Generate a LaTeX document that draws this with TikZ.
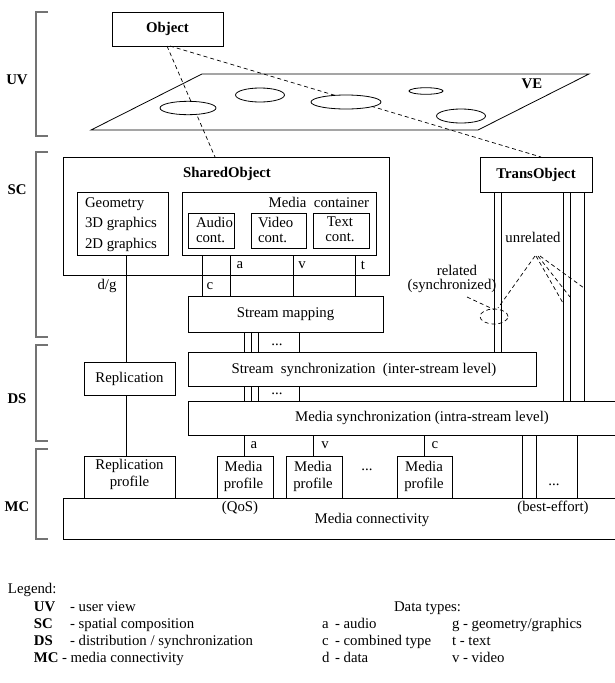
\documentclass[tikz,border=0pt]{standalone}
\usepackage{fontspec}
\setmainfont{Liberation Serif}
\usetikzlibrary{calc}
\newcommand\diagfont{\fontsize{14.8}{17}\selectfont}
\tikzset{
  box/.style={draw, inner sep=0pt, outer sep=0pt},
  lbl/.style={inner sep=0pt, outer sep=0pt},
  bold/.style={lbl, font=\diagfont\bfseries},
  bracket/.style={draw=black!55, line width=1.4pt},
  dsh/.style={dash pattern=on 4pt off 3pt, line width=0.7pt},
  wire/.style={line width=0.8pt},
  leg/.style={lbl, anchor=base west},
}
\begin{document}
\begin{tikzpicture}[x=1pt, y=-1pt, font=\diagfont, line width=0.8pt]
\useasboundingbox (0,0) rectangle (615,683);

% ---- layer brackets and their names
\draw[bracket] (48,12) -- (36,12) -- (36,136) -- (48,136);
\draw[bracket] (48,152) -- (36,152) -- (36,337) -- (48,337);
\draw[bracket] (48,345) -- (36,345) -- (36,441) -- (48,441);
\draw[bracket] (48,449) -- (36,449) -- (36,539) -- (48,539);
\node[bold] (uv) at (17,80) {UV};
\node[bold] (sc) at (17,190) {SC};
\node[bold] (ds) at (17,399) {DS};
\node[bold] (mc) at (17,507) {MC};

% ---- user view: object above the virtual environment plane
\node[box, minimum width=111pt, minimum height=34pt, font=\diagfont\bfseries] (obj) at (167.5,29) {Object};
\draw (91,130) -- (202,74) -- (589,74) -- (478,130) -- cycle;
\node[bold] (ve) at (532,84) {VE};

% ---- spatial composition
\node[box, minimum width=326pt, minimum height=118pt] (shared) at (226,216) {};
\node[bold] (sharedtitle) at (227,174) {SharedObject};
\node[box, minimum width=112pt, minimum height=35pt, font=\diagfont\bfseries] (trans) at (536,174.5) {TransObject};

% projection of the object onto the plane and down to the two object kinds
\draw[dsh] ([xshift=-0.5pt]obj.south) -- (215,0 |- shared.north);
\draw[dsh] ([xshift=2.5pt]obj.south) -- (541,0 |- trans.north);

% objects in the plane (hide the projection lines behind them)
\draw[fill=white] (188,108) ellipse [x radius=28pt, y radius=6.7pt];
\draw[fill=white] (260,95) ellipse [x radius=24.5pt, y radius=7pt];
\draw[fill=white] (346,102) ellipse [x radius=35pt, y radius=7pt];
\draw[fill=white] (426,91) ellipse [x radius=17pt, y radius=3.3pt];
\draw[fill=white] (461,116) ellipse [x radius=24.5pt, y radius=7pt];

\node[box, minimum width=91pt, minimum height=63pt] (geom) at (122.5,223.5) {};
\node[lbl, align=left, anchor=north west, font=\fontsize{14.8}{20.5}\selectfont] (geomtxt) at (85,197.5)
  {Geometry\\3D graphics\\2D graphics};

\node[box, minimum width=194pt, minimum height=63pt] (mcont) at (279,223.5) {};
\node[lbl, anchor=east] (mconttxt) at (369,202) {Media\ \ container};
\node[box, minimum width=46pt, minimum height=35pt] (audio) at (211,230.5) {};
\node[lbl, align=left, anchor=west, font=\fontsize{14.8}{15}\selectfont] (audiotxt) at (196,229.5) {Audio\\cont.};
\node[box, minimum width=55pt, minimum height=35pt] (video) at (278.5,230.5) {};
\node[lbl, align=left, anchor=west, font=\fontsize{14.8}{15}\selectfont] (videotxt) at (258,229.5) {Video\\cont.};
\node[box, minimum width=56pt, minimum height=35pt] (textc) at (341,230.5) {};
\node[lbl, align=center, font=\fontsize{14.8}{15}\selectfont] (texttxt) at (340,229.5) {Text\\cont.};

\node[box, minimum width=195pt, minimum height=36pt] (smap) at (285.5,314) {Stream mapping};

% streams leaving the media container
\draw[wire] (202,0 |- mcont.south) -- (202,0 |- smap.north);
\draw[wire] (230,0 |- mcont.south) -- (230,0 |- smap.north);
\draw[wire] (293,0 |- mcont.south) -- (293,0 |- smap.north);
\draw[wire] (355,0 |- mcont.south) -- (355,0 |- smap.north);
\node[lbl] (la1) at (240,265) {a};
\node[lbl] (lv1) at (302,265) {v};
\node[lbl] (lt1) at (363,265) {t};
\node[lbl] (lc1) at (210,286) {c};
\node[lbl] (ldg) at (107,286) {d/g};

% ---- distribution / synchronization
\node[box, minimum width=348pt, minimum height=34pt] (ssync) at (362,369) {};
\node[lbl] (ssynctxt) at (364,369.5) {Stream\ \ synchronization\ \ (inter-stream level)};
\node[box, minimum width=432pt, minimum height=34pt] (msync) at (404,418) {};
\node[lbl] (msynctxt) at (422,418) {Media synchronization (intra-stream level)};
\node[box, minimum width=91pt, minimum height=33pt] (repl) at (129.5,378.5) {Replication};

\foreach \xx in {244,251,258,299} {
  \draw[wire] (\xx,0 |- smap.south) -- (\xx,0 |- ssync.north);
  \draw[wire] (\xx,0 |- ssync.south) -- (\xx,0 |- msync.north);
}
\node[lbl, anchor=base] (dots1) at (277,345) {...};
\node[lbl, anchor=base] (dots2) at (277,394.5) {...};

% data / graphics path
\draw[wire] (126,0 |- geom.south) -- (126,0 |- repl.north);

% ---- media connectivity
\node[box, minimum width=557pt, minimum height=41pt] (mconn) at (341.5,518.5) {};
\node[lbl] (qos) at (240,508) {(QoS)};
\node[lbl] (mconntxt) at (372,520) {Media connectivity};
\node[lbl] (besteff) at (553,508) {(best-effort)};

\node[box, minimum width=91pt, minimum height=42pt] (rprof) at (129.5,477) {};
\node[lbl, align=center] (rproftxt) at (129.5,474) {Replication\\profile};
\draw[wire] (126,0 |- repl.south) -- (126,0 |- rprof.north);

\node[box, minimum width=56pt, minimum height=42pt] (mp1) at (245,477) {};
\node[lbl, align=center] (mp1txt) at (243.5,476) {Media\\profile};
\node[box, minimum width=56pt, minimum height=42pt] (mp2) at (314,477) {};
\node[lbl, align=center] (mp2txt) at (313,476) {Media\\profile};
\node[box, minimum width=55pt, minimum height=42pt] (mp3) at (424.5,477) {};
\node[lbl, align=center] (mp3txt) at (424,476) {Media\\profile};
\node[lbl, anchor=base] (dots3) at (367,470) {...};

\draw[wire] (244,0 |- msync.south) -- (244,0 |- mp1.north);
\draw[wire] (313,0 |- msync.south) -- (313,0 |- mp2.north);
\draw[wire] (424,0 |- msync.south) -- (424,0 |- mp3.north);
\node[lbl] (la2) at (254,445) {a};
\node[lbl] (lv2) at (325,445) {v};
\node[lbl] (lc2) at (435,445) {c};

% best-effort streams of the transient object
\foreach \xx in {522,536,577} {
  \draw[wire] (\xx,0 |- msync.south) -- (\xx,0 |- mconn.north);
}
\node[lbl, anchor=base] (dots4) at (554,485) {...};

% ---- transient object streams
\foreach \xx in {494,501} {
  \draw[wire] (\xx,0 |- trans.south) -- (\xx,0 |- ssync.north);
}
\foreach \xx in {563,570,584} {
  \draw[wire] (\xx,0 |- trans.south) -- (\xx,0 |- msync.north);
}
\node[lbl] (unrel) at (533,237) {unrelated};
\node[lbl, align=center, font=\fontsize{14.8}{14.5}\selectfont] (rel) at (452,279)
  {\hspace*{10pt}related\\(synchronized)};

\coordinate (apex) at (535,256);
\coordinate (relend) at (498,308);
\coordinate (u1) at (563,303);
\coordinate (u2) at (570,297);
\coordinate (u3) at (584,288);
\coordinate (relstart) at (467,297);
\coordinate (relto) at (495,310);
\draw[dsh] (apex) -- (relend);
\draw[dsh] ([xshift=1pt]apex) -- (u1);
\draw[dsh] ([xshift=3pt]apex) -- (u2);
\draw[dsh] ([xshift=5pt]apex) -- (u3);
\draw[dsh] (relstart) -- (relto);
\draw[dsh] (494,316.5) ellipse [x radius=14pt, y radius=7.5pt];

% ---- legend
\node[leg] (legend) at (8,593) {Legend:};
\node[leg, font=\diagfont\bfseries] (kuv) at (34,611) {UV};
\node[leg] (duv) at (70,611) {- user view};
\node[leg, font=\diagfont\bfseries] (ksc) at (34,628) {SC};
\node[leg] (dsc) at (70,628) {- spatial composition};
\node[leg, font=\diagfont\bfseries] (kds) at (34,645) {DS};
\node[leg] (dds) at (70,645) {- distribution / synchronization};
\node[leg, font=\diagfont\bfseries] (kmc) at (34,662) {MC};
\node[leg] (dmc) at (62,662) {- media connectivity};

\node[leg] (dtypes) at (394,611) {Data types:};
\node[leg] (ka) at (322,628) {a};
\node[leg] (da) at (335,628) {- audio};
\node[leg] (kc) at (322,645) {c};
\node[leg] (dc) at (335,645) {- combined type};
\node[leg] (kd) at (322,662) {d};
\node[leg] (dd) at (335,662) {- data};
\node[leg] (dg) at (452,628) {g - geometry/graphics};
\node[leg] (dt) at (452,645) {t - text};
\node[leg] (dv) at (452,662) {v - video};
\end{tikzpicture}
\end{document}
